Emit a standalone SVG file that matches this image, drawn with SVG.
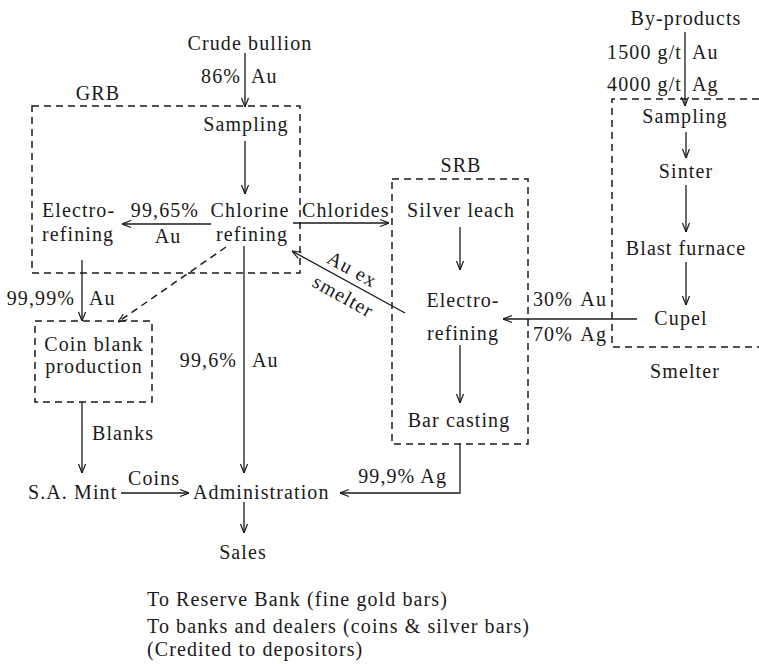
<svg xmlns="http://www.w3.org/2000/svg" width="759" height="664" viewBox="0 0 759 664">
<style>
text{font-family:"Liberation Serif","Times New Roman",serif;font-size:20px;letter-spacing:1.1px;fill:#1a1a1a}
.m{text-anchor:middle}
.e{text-anchor:end}
.ln{stroke:#1a1a1a;stroke-width:1.3;fill:none}
.ar{marker-end:url(#ah)}
.ds{stroke:#1a1a1a;stroke-width:1.5;fill:none;stroke-dasharray:7 5}
</style>
<defs>
<marker id="ah" viewBox="0 0 10 10" refX="10" refY="5" markerWidth="10" markerHeight="10" markerUnits="userSpaceOnUse" orient="auto">
<path d="M1,1.5 L10,5 L1,8.5" fill="none" stroke="#1a1a1a" stroke-width="1.2"/>
</marker>
</defs>
<rect width="759" height="664" fill="#fff"/>

<g id="boxes">
<rect id="grb-box" class="ds" x="32" y="106" width="268" height="167"/>
<rect id="coin-box" class="ds" x="35" y="321" width="117" height="81"/>
<rect id="srb-box" class="ds" x="392" y="179" width="136" height="265"/>
<path id="smelter-box" class="ds" d="M759,99 H612 V347 H759"/>
</g>

<g id="connectors">
<line class="ln ar" x1="245" y1="53" x2="245" y2="107"/>
<line class="ln ar" x1="245" y1="141" x2="245" y2="194"/>
<line class="ln ar" x1="211" y1="224" x2="122" y2="224"/>
<line class="ln ar" x1="293" y1="223" x2="389" y2="223"/>
<line class="ln ar" x1="405" y1="313" x2="292" y2="251"/>
<line class="ln ar" x1="82" y1="260" x2="82" y2="321"/>
<line class="ds ar" x1="226" y1="247" x2="118" y2="322"/>
<line class="ln ar" x1="244" y1="246" x2="244" y2="473"/>
<line class="ln ar" x1="82" y1="402" x2="82" y2="473"/>
<line class="ln ar" x1="121" y1="493" x2="189" y2="493"/>
<line class="ln ar" x1="244" y1="502" x2="244" y2="533"/>
<polyline class="ln ar" points="460,444 460,493 340,493"/>
<line class="ln ar" x1="460" y1="227" x2="460" y2="270"/>
<line class="ln ar" x1="460" y1="345" x2="460" y2="403"/>
<line class="ln ar" x1="637" y1="319" x2="503" y2="319"/>
<line class="ln ar" x1="685" y1="32" x2="685" y2="106"/>
<line class="ln ar" x1="686" y1="132" x2="686" y2="158"/>
<line class="ln ar" x1="686" y1="185" x2="686" y2="232"/>
<line class="ln ar" x1="686" y1="262" x2="686" y2="305"/>
</g>

<g id="labels">
<text class="e" x="241" y="83">86%</text><text x="251" y="83">Au</text>
<text class="m" x="165" y="217">99,65%</text><text class="m" x="168" y="243">Au</text>
<text x="302" y="217">Chlorides</text>
<g transform="translate(349,275) rotate(29)"><text class="m" x="0" y="0">Au ex</text></g>
<g transform="translate(340,302) rotate(29)"><text class="m" x="0" y="0">smelter</text></g>
<text class="e" x="75" y="305">99,99%</text><text x="89" y="305">Au</text>
<text class="e" x="237" y="367">99,6%</text><text x="252" y="367">Au</text>
<text x="92" y="440">Blanks</text>
<text x="128" y="485">Coins</text>
<text class="e" x="447" y="483">99,9% Ag</text>
<text x="533" y="306">30%</text><text class="e" x="607" y="306">Au</text>
<text x="533" y="341">70%</text><text class="e" x="607" y="341">Ag</text>
<text class="e" x="682" y="59">1500 g/t</text><text x="692" y="59">Au</text>
<text class="e" x="682" y="91">4000 g/t</text><text x="692" y="91">Ag</text>
</g>

<g id="crude-bullion"><text class="m" x="250" y="50">Crude bullion</text></g>
<g id="grb"><text class="m" x="98" y="100">GRB</text></g>
<g id="grb-sampling"><text class="m" x="246" y="131">Sampling</text></g>
<g id="chlorine-refining"><text class="m" x="250" y="217">Chlorine</text><text class="m" x="252" y="241">refining</text></g>
<g id="grb-electrorefining"><text x="42" y="217">Electro-</text><text x="42" y="241">refining</text></g>
<g id="coin-blank"><text class="m" x="94" y="351">Coin blank</text><text class="m" x="94" y="373">production</text></g>
<g id="sa-mint"><text x="28" y="499">S.A. Mint</text></g>
<g id="administration"><text x="193" y="499">Administration</text></g>
<g id="sales"><text class="m" x="243" y="559">Sales</text></g>
<g id="sales-notes">
<text x="147" y="606">To Reserve Bank (fine gold bars)</text>
<text x="147" y="633">To banks and dealers (coins &amp; silver bars)</text>
<text x="147" y="656">(Credited to depositors)</text>
</g>
<g id="srb"><text class="m" x="461" y="172">SRB</text></g>
<g id="silver-leach"><text class="m" x="461" y="217">Silver leach</text></g>
<g id="srb-electrorefining"><text class="m" x="463" y="307">Electro-</text><text class="m" x="463" y="340">refining</text></g>
<g id="bar-casting"><text class="m" x="459" y="427">Bar casting</text></g>
<g id="by-products"><text class="m" x="686" y="25">By-products</text></g>
<g id="smelter-sampling"><text class="m" x="685" y="123">Sampling</text></g>
<g id="sinter"><text class="m" x="686" y="178">Sinter</text></g>
<g id="blast-furnace"><text class="m" x="686" y="255">Blast furnace</text></g>
<g id="cupel"><text class="m" x="681" y="325">Cupel</text></g>
<g id="smelter"><text class="m" x="685" y="378">Smelter</text></g>
</svg>
